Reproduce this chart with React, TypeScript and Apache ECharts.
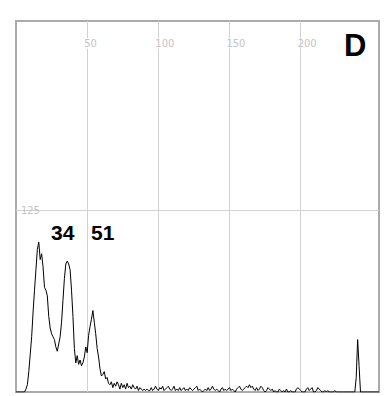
import React, { useEffect, useRef } from "react";
import * as echarts from "echarts";

// histogram counts per channel 0..255
const counts: number[] = [
  0, 0, 0, 0, 0, 0, 0, 2, 5, 14,
  26, 38, 55, 70, 84, 98, 103, 91, 95, 86,
  72, 70, 66, 52, 44, 40, 38, 36, 31, 28,
  33, 38, 48, 63, 78, 88, 90, 88, 84, 70,
  52, 30, 20, 25, 19, 22, 18, 20, 24, 31,
  27, 39, 45, 50, 56, 48, 40, 30, 24, 16,
  11, 12, 14, 9, 10, 6, 5, 7, 3, 6,
  4, 7, 5, 2, 6, 3, 5, 2, 6, 3,
  4, 2, 5, 3, 2, 4, 1, 3, 2, 1,
  2, 1, 2, 1, 1, 3, 1, 2, 4, 2,
  1, 3, 2, 4, 1, 2, 3, 4, 2, 1,
  2, 4, 1, 2, 1, 3, 1, 2, 3, 1,
  2, 1, 3, 2, 1, 2, 3, 4, 1, 2,
  1, 0, 1, 2, 1, 3, 1, 2, 4, 2,
  1, 2, 1, 0, 2, 3, 1, 2, 1, 2,
  3, 1, 2, 1, 0, 2, 3, 4, 2, 1,
  2, 3, 4, 3, 5, 3, 4, 2, 1, 3,
  1, 2, 4, 3, 1, 0, 1, 3, 2, 1,
  2, 0, 1, 0, 0, 2, 1, 0, 1, 0,
  2, 0, 0, 1, 0, 0, 0, 2, 3, 2,
  1, 0, 0, 0, 2, 3, 1, 2, 3, 0,
  0, 1, 3, 2, 1, 0, 0, 1, 0, 1,
  0, 0, 0, 0, 1, 0, 0, 0, 0, 0,
  0, 0, 0, 0, 0, 0, 0, 0, 0, 10,
  36, 18, 0, 0, 0, 0, 0, 0, 0, 0,
  0, 0, 0, 0, 0, 0,
];

const xTickLabels = [50, 100, 150, 200];
const yTickLabels = [125];
const peakLabels = ["34", "51"];
const panelLetter = "D";

export default function App() {
  const ref = useRef<HTMLDivElement>(null);
  useEffect(() => {
    if (!ref.current) return;
    const chart = echarts.init(ref.current, null, { renderer: "svg" });
    const none = "rgba(0,0,0,0)";
    const gridC = "#d2d2d2";
    chart.setOption({
      animation: false,
      backgroundColor: "#fff",
      grid: {
        left: 16,
        right: 5,
        top: 21,
        bottom: 4,
        show: true,
        borderColor: "#ababab",
        borderWidth: 2,
        backgroundColor: "#fff",
      },
      xAxis: {
        type: "value",
        position: "top",
        min: 0,
        max: 255,
        interval: 50,
        axisLine: { show: false },
        axisTick: { show: false },
        splitLine: {
          show: true,
          lineStyle: { color: [none, gridC, gridC, gridC, gridC, none, none], width: 1 },
        },
        axisLabel: {
          inside: true,
          margin: 17,
          align: "left",
          verticalAlign: "top",
          padding: [0, 0, 0, -3],
          color: "#c4c4c4",
          fontSize: 11,
          fontFamily: "'Liberation Sans Narrow', 'DejaVu Sans Condensed', sans-serif",
          backgroundColor: "#fff",
          formatter: (v: number) => (xTickLabels.includes(v) ? String(v) : ""),
        },
      },
      yAxis: {
        type: "value",
        min: 0,
        max: 255,
        interval: 125,
        axisLine: { show: false },
        axisTick: { show: false },
        splitLine: {
          show: true,
          lineStyle: { color: [none, gridC, none, none], width: 1 },
        },
        axisLabel: {
          inside: true,
          margin: 5,
          align: "left",
          verticalAlign: "middle",
          color: "#c4c4c4",
          fontSize: 11,
          fontFamily: "'Liberation Sans Narrow', 'DejaVu Sans Condensed', sans-serif",
          formatter: (v: number) => (yTickLabels.includes(v) ? String(v) : ""),
        },
      },
      graphic: [
        {
          type: "text",
          left: 51,
          top: 222,
          style: { text: peakLabels[0], font: "bold 21px 'Liberation Sans', Arial, sans-serif", fill: "#000" },
        },
        {
          type: "text",
          left: 91,
          top: 222,
          style: { text: peakLabels[1], font: "bold 21px 'Liberation Sans', Arial, sans-serif", fill: "#000" },
        },
        {
          type: "text",
          left: 344,
          top: 30,
          style: { text: panelLetter, font: "bold 31px 'Liberation Sans', Arial, sans-serif", fill: "#000" },
        },
      ],
      series: [
        {
          type: "line",
          data: counts.map((v, i) => [i, v]),
          showSymbol: false,
          symbol: "none",
          lineStyle: { color: "#000", width: 1 },
          silent: true,
        },
      ],
    });
    return () => chart.dispose();
  }, []);
  return <div ref={ref} style={{ width: 384, height: 396, position: "absolute", left: 0, top: 0 }} />;
}
